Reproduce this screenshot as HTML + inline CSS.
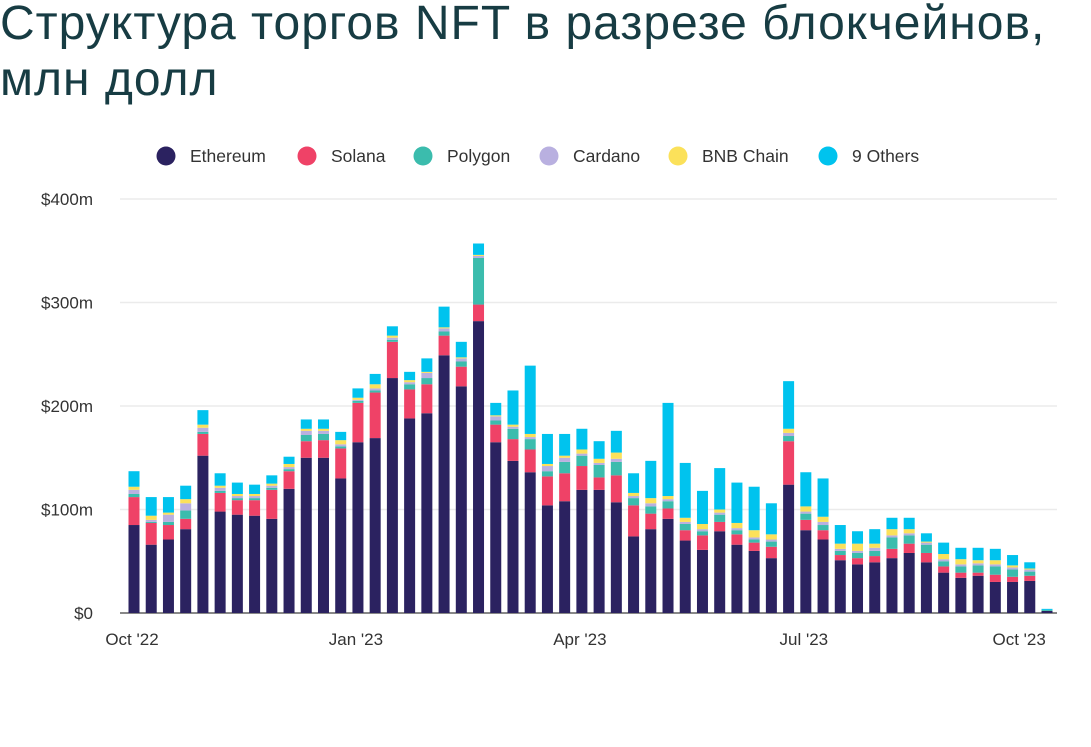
<!DOCTYPE html>
<html><head><meta charset="utf-8">
<style>
body{margin:0;background:#fff;width:1091px;height:747px;overflow:hidden;font-family:"Liberation Sans",sans-serif;}
#title{position:absolute;left:0;top:-4px;font-size:48px;line-height:56px;color:#173c43;letter-spacing:1px;white-space:nowrap;}
svg{position:absolute;left:0;top:0;}
</style></head>
<body>
<div id="title">Структура торгов NFT в разрезе блокчейнов,<br>млн долл</div>
<svg id="chart" width="1091" height="747"></svg>
<script>
const seriesNames=["Ethereum","Solana","Polygon","Cardano","BNB Chain","9 Others"];
const colors=["#2b2260","#ef4267","#3bbcad","#b9b0e0","#fbe15a","#00c3ee"];
const ethereum=[85,66,71,81,152,98,95,94,91,120,150,150,130,165,169,227,188,193,249,219,282,165,147,136,104,108,119,119,107,74,81,91,70,61,79,66,60,53,124,80,71,51,47,49,53,58,49,39,34,36,30,30,31,2];
const solana=[27,21,14,10,21,18,14,15,28,17,16,17,29,38,44,35,28,28,19,19,16,17,21,22,28,27,23,12,26,30,15,10,10,14,9,10,8,11,42,10,9,5,6,6,9,9,9,6,5,3,7,5,5,0];
const polygon=[3,1,3,8,2,2,2,2,2,2,6,6,2,2,2,2,5,6,4,5,45,4,10,10,5,11,10,12,13,7,7,7,6,4,7,4,3,5,5,6,5,4,5,5,11,8,8,5,6,7,8,7,4,1];
const cardano=[4,2,7,7,4,3,2,2,2,2,4,3,2,1,2,2,2,5,3,3,2,4,2,2,5,4,2,2,3,2,3,2,2,2,2,2,2,2,3,2,3,2,2,3,2,2,2,2,2,2,2,2,2,0];
const bnb=[3,4,2,4,3,2,2,2,2,3,2,2,4,2,4,2,2,1,1,1,1,1,2,3,2,2,4,4,6,3,5,3,4,5,3,5,7,5,4,5,5,5,7,4,6,4,1,5,5,3,4,2,1,0];
const others=[15,18,15,13,14,12,11,9,8,7,9,9,8,9,10,9,8,13,20,15,11,12,33,66,29,21,20,17,21,19,36,90,53,32,40,39,42,30,46,33,37,18,12,14,11,11,8,11,11,12,11,10,6,1];
const yTicks=[0,100,200,300,400];
const yTickLabels=["$0","$100m","$200m","$300m","$400m"];
const xTickPos=[0,13,26,39,51.5];
const xTickLabels=["Oct '22","Jan '23","Apr '23","Jul '23","Oct '23"];

const series=[ethereum,solana,polygon,cardano,bnb,others];
const NS="http://www.w3.org/2000/svg";
const svg=document.getElementById('chart');
const y0=613,yTop=199,maxV=400;
const y=v=>y0-(v/maxV)*(y0-yTop);
const n=ethereum.length;
const x=i=>134+i*(1047-134)/(n-1);
const bw=11;
function mk(tag,attrs){const e=document.createElementNS(NS,tag);for(const k in attrs)e.setAttribute(k,attrs[k]);svg.appendChild(e);return e;}
yTicks.forEach((t,i)=>{
  const g=mk('line',{x1:120,x2:1057,y1:y(t),y2:y(t),stroke:i===0?'#888':'#ebebeb','stroke-width':i===0?2:1.5});
  
  
  const tx=mk('text',{x:93,y:y(t)+6,'text-anchor':'end','font-size':17,fill:'#333'});
  tx.textContent=yTickLabels[i];
  
  
});
for(let i=0;i<n;i++){
  let acc=0;
  series.forEach((s,k)=>{
    const v=s[i]; if(v<=0)return;
    const r=mk('rect',{x:x(i)-bw/2,y:y(acc+v),width:bw,height:y(acc)-y(acc+v),fill:colors[k]});
    
    
    acc+=v;
  });
}
xTickPos.forEach((p,i)=>{
  const tx=mk('text',{x:x(p)-2,y:645,'text-anchor':'middle','font-size':17,fill:'#333'});
  tx.textContent=xTickLabels[i];
  
  
});
const legX=[166,307,423,549,678,828];
seriesNames.forEach((nm,k)=>{
  const c=mk('circle',{cx:legX[k],cy:156,r:9.5,fill:colors[k]});
  
  
  const t=mk('text',{x:legX[k]+24,y:162,'font-size':17.5,fill:'#333'});
  t.textContent=nm;
  
  
});
</script>
</body></html>
